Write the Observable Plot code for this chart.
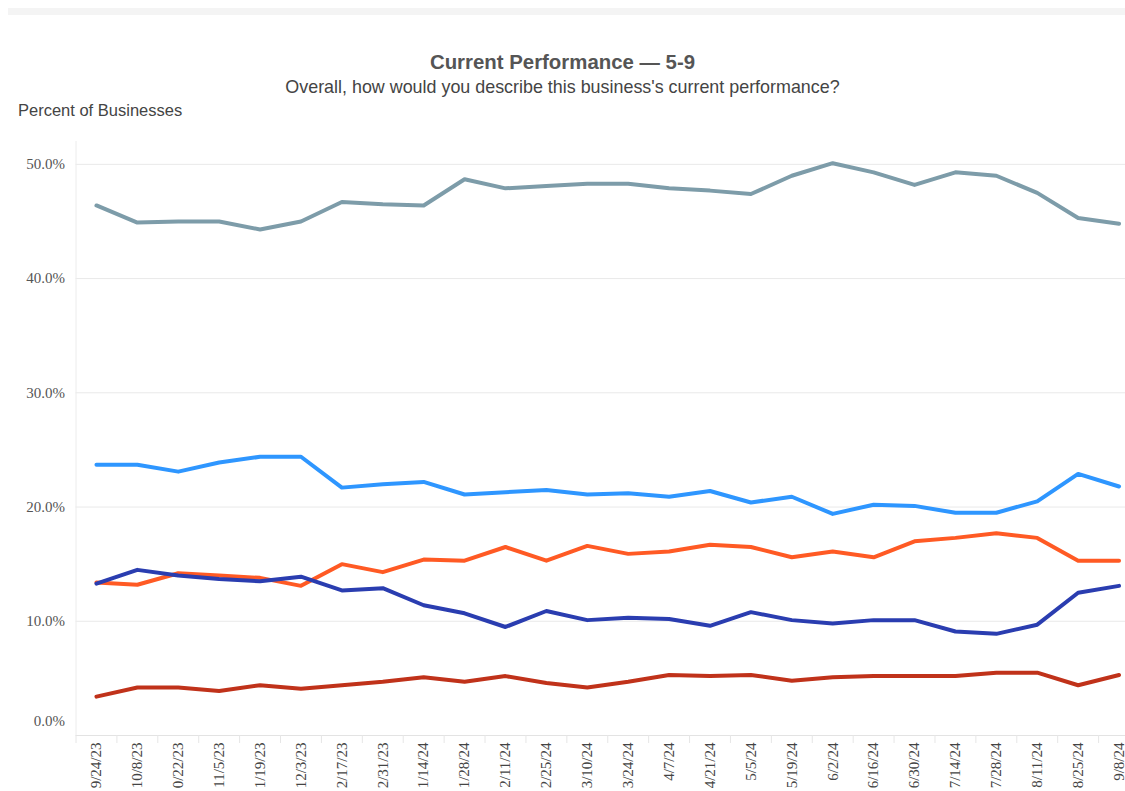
<!DOCTYPE html>
<html>
<head>
<meta charset="utf-8">
<script src="https://cdn.jsdelivr.net/npm/d3@7"></script>
<script src="https://cdn.jsdelivr.net/npm/@observablehq/plot@0.6"></script>
<style>
  body { margin: 0; background: #fff; width: 1125px; height: 791px; overflow: hidden; position: relative; font-family: "Liberation Sans", Arial, sans-serif; }
  #bar { position: absolute; left: 8px; right: 0; top: 8px; height: 7px; background: #f4f4f4; }
  #title { position: absolute; left: 0; width: 1125px; top: 50px; line-height: 24px; text-align: center; font-size: 20.4px; font-weight: bold; color: #555; }
  #subtitle { position: absolute; left: 0; width: 1125px; top: 76px; line-height: 22px; text-align: center; font-size: 17.9px; color: #444; }
  #ylabel { position: absolute; left: 18px; top: 100px; line-height: 20px; font-size: 16.5px; color: #444; }
  #chart { position: absolute; left: 0; top: 120px; }
  #chart svg { overflow: hidden; }
</style>
</head>
<body>
<div id="bar"></div>
<div id="title">Current Performance — 5-9</div>
<div id="subtitle">Overall, how would you describe this business's current performance?</div>
<div id="ylabel">Percent of Businesses</div>
<div id="chart"></div>
<script>
const dates = ["9/24/23","10/8/23","10/22/23","11/5/23","11/19/23","12/3/23","12/17/23","12/31/23",
  "1/14/24","1/28/24","2/11/24","2/25/24","3/10/24","3/24/24","4/7/24","4/21/24","5/5/24","5/19/24",
  "6/2/24","6/16/24","6/30/24","7/14/24","7/28/24","8/11/24","8/25/24","9/8/24"];

const seriesNames = ["Good", "Fair", "Excellent", "Poor", "Very poor"];
const seriesColors = ["#7d9ca9", "#2e96ff", "#ff5a24", "#2a3db0", "#c0321a"];

const good     = [46.4,44.9,45.0,45.0,44.3,45.0,46.7,46.5,46.4,48.7,47.9,48.1,48.3,48.3,47.9,47.7,47.4,49.0,50.1,49.3,48.2,49.3,49.0,47.5,45.3,44.8];
const fair     = [23.7,23.7,23.1,23.9,24.4,24.4,21.7,22.0,22.2,21.1,21.3,21.5,21.1,21.2,20.9,21.4,20.4,20.9,19.4,20.2,20.1,19.5,19.5,20.5,22.9,21.8];
const excellent= [13.4,13.2,14.2,14.0,13.8,13.1,15.0,14.3,15.4,15.3,16.5,15.3,16.6,15.9,16.1,16.7,16.5,15.6,16.1,15.6,17.0,17.3,17.7,17.3,15.3,15.3];
const poor     = [13.3,14.5,14.0,13.7,13.5,13.9,12.7,12.9,11.4,10.7,9.5,10.9,10.1,10.3,10.2,9.6,10.8,10.1,9.8,10.1,10.1,9.1,8.9,9.7,12.5,13.1];
const veryPoor = [3.4,4.2,4.2,3.9,4.4,4.1,4.4,4.7,5.1,4.7,5.2,4.6,4.2,4.7,5.3,5.2,5.3,4.8,5.1,5.2,5.2,5.2,5.5,5.5,4.4,5.3];

const yTicks = [0.1, 0.2, 0.3, 0.4, 0.5];

const seriesValues = [good, fair, excellent, poor, veryPoor];
const rows = [];
seriesNames.forEach((name, k) => {
  seriesValues[k].forEach((v, i) => rows.push({date: dates[i], series: name, value: v / 100}));
});

const xRange = [75.5, 1139];
const step = (xRange[1] - xRange[0]) / dates.length;
const fmt = d3.format(".1%");

const chart = Plot.plot({
  width: 1125,
  height: 668,
  marginTop: 21,
  marginBottom: 53,
  marginLeft: 75.5,
  marginRight: 0,
  style: {background: "transparent", color: "#555", overflow: "hidden"},
  x: {type: "point", domain: dates, range: xRange, padding: 0.5, round: false, label: null},
  y: {domain: [0, 0.52], label: null},
  color: {domain: seriesNames, range: seriesColors},
  marks: [
    Plot.gridY(yTicks, {stroke: "#e9e9e9", strokeOpacity: 1}),
    Plot.ruleY([0], {stroke: "#e3e3e3"}),
    Plot.ruleX([dates[0]], {dx: -step / 2, stroke: "#ececec"}),
    Plot.axisX(dates, {tickSize: 8, dx: -step / 2, tickFormat: () => "", stroke: "#e6e6e6", label: null}),
    Plot.axisX({tickSize: 0, tickPadding: 7, tickRotate: -90, fontSize: 15, fontFamily: "Liberation Serif", fill: "#444", label: null}),
    Plot.axisY(yTicks, {tickSize: 0, tickPadding: 11, tickFormat: fmt, fontSize: 15, fontFamily: "Liberation Serif", fill: "#555", label: null}),
    Plot.axisY([0], {tickSize: 0, tickPadding: 11, tickFormat: fmt, dy: -14, fontSize: 15, fontFamily: "Liberation Serif", fill: "#555", label: null}),
    Plot.line(rows, {x: "date", y: "value", z: "series", stroke: "series", strokeWidth: 4, strokeLinejoin: "round", strokeLinecap: "round"})
  ]
});
document.getElementById("chart").appendChild(chart);
</script>
</body>
</html>
